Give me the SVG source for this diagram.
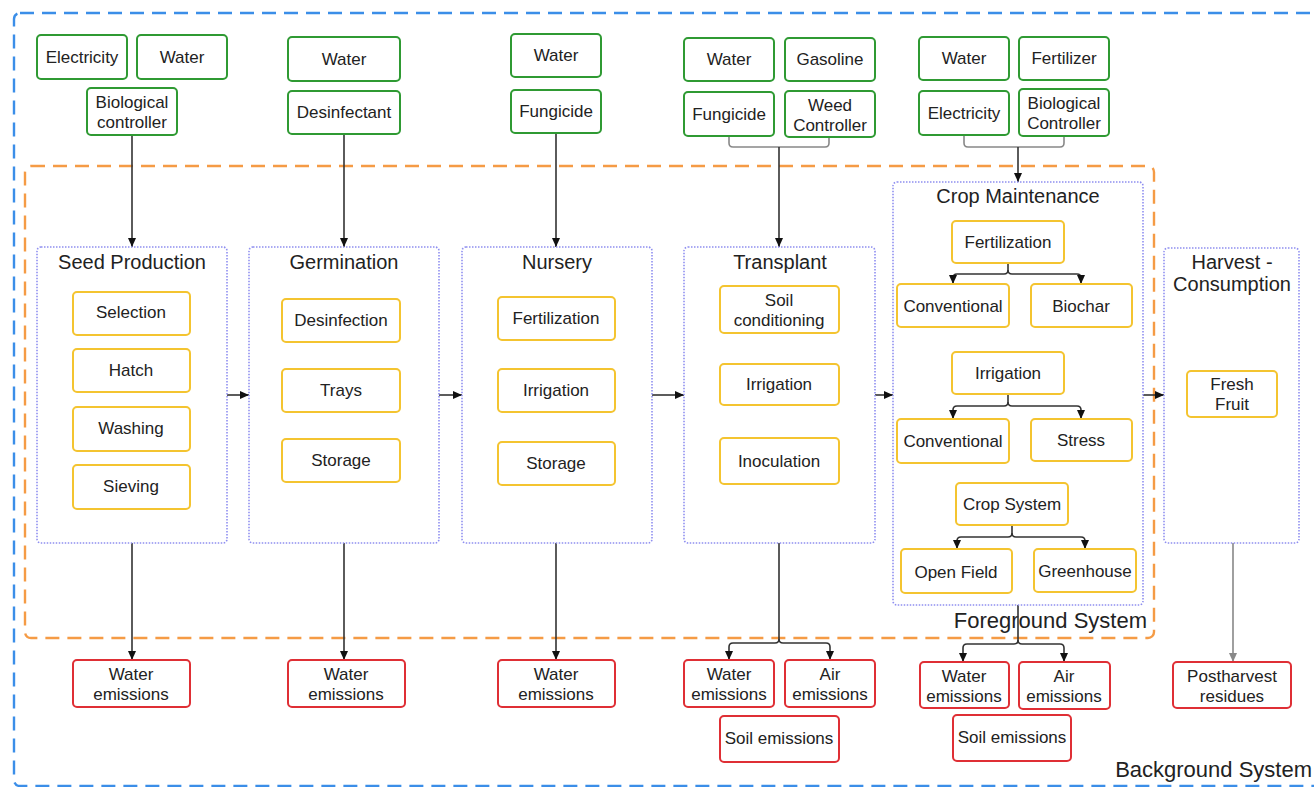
<svg xmlns="http://www.w3.org/2000/svg" width="1314" height="787" viewBox="0 0 1314 787">
<style>
text{font-family:"Liberation Sans",Arial,sans-serif;fill:#222;text-anchor:middle}
.t{font-size:17px}
.h{font-size:20px}
.big{font-size:22px}
.in{fill:#fff;stroke:#2f9a33;stroke-width:2}
.pr{fill:#fff;stroke:#f4c430;stroke-width:2}
.em{fill:#fff;stroke:#df2f35;stroke-width:2}
.st{fill:none;stroke:#8f8ff0;stroke-width:1.6;stroke-dasharray:1.5 1.5}
.c{fill:none;stroke:#333;stroke-width:1.6}
.cg{fill:none;stroke:#888;stroke-width:1.6}
</style>
<defs>
<marker id="a" markerWidth="10" markerHeight="10" refX="9" refY="5" orient="auto" markerUnits="userSpaceOnUse"><path d="M0,1 L9,5 L0,9 Z" fill="#111"/></marker>
<marker id="ag" markerWidth="10" markerHeight="10" refX="9" refY="5" orient="auto" markerUnits="userSpaceOnUse"><path d="M0,1 L9,5 L0,9 Z" fill="#888"/></marker>
</defs>
<rect width="1314" height="787" fill="#fff"/>
<g id="background-system">
<rect x="14" y="13" width="1320" height="773" rx="6" fill="none" stroke="#3b8ee8" stroke-width="2.4" stroke-dasharray="14 8"/>
<text class="big" x="1312" y="777" style="text-anchor:end">Background System</text>
</g>
<g id="foreground-system">
<rect x="25" y="166" width="1129" height="472" rx="6" fill="none" stroke="#f59b45" stroke-width="2.4" stroke-dasharray="14 8"/>
<text class="big" x="1147" y="628" style="text-anchor:end">Foreground System</text>
</g>

<g id="connectors">
<line class="c" x1="132" y1="135" x2="132" y2="247" marker-end="url(#a)"/>
<line class="c" x1="344" y1="134" x2="344" y2="247" marker-end="url(#a)"/>
<line class="c" x1="556" y1="133" x2="556" y2="247" marker-end="url(#a)"/>
<path class="cg" d="M729,136 V143 Q729,147 733,147 H825 Q829,147 829,143 V137"/>
<line class="c" x1="779" y1="147" x2="779" y2="247" marker-end="url(#a)"/>
<path class="cg" d="M964,135 V143 Q964,147 968,147 H1060 Q1064,147 1064,143 V136"/>
<line class="c" x1="1018" y1="147" x2="1018" y2="182" marker-end="url(#a)"/>
<line class="c" x1="227" y1="395" x2="249" y2="395" marker-end="url(#a)"/>
<line class="c" x1="439" y1="395" x2="462" y2="395" marker-end="url(#a)"/>
<line class="c" x1="652" y1="395" x2="684" y2="395" marker-end="url(#a)"/>
<line class="c" x1="875" y1="395" x2="893" y2="395" marker-end="url(#a)"/>
<line class="c" x1="1143" y1="395" x2="1164" y2="395" marker-end="url(#a)"/>
<path class="c" d="M1008,263 V270 Q1008,274 1004,274 H957 Q953,274 953,278 V284" marker-end="url(#a)"/>
<path class="c" d="M1008,270 Q1008,274 1012,274 H1077 Q1081,274 1081,278 V284" marker-end="url(#a)"/>
<path class="c" d="M1008,394 V402 Q1008,406 1004,406 H957 Q953,406 953,410 V419" marker-end="url(#a)"/>
<path class="c" d="M1008,402 Q1008,406 1012,406 H1077 Q1081,406 1081,410 V419" marker-end="url(#a)"/>
<path class="c" d="M1012,525 V533 Q1012,537 1008,537 H961 Q957,537 957,541 V549" marker-end="url(#a)"/>
<path class="c" d="M1012,533 Q1012,537 1016,537 H1081 Q1085,537 1085,541 V549" marker-end="url(#a)"/>
<line class="c" x1="132" y1="543" x2="132" y2="660" marker-end="url(#a)"/>
<line class="c" x1="344" y1="543" x2="344" y2="660" marker-end="url(#a)"/>
<line class="c" x1="556" y1="543" x2="556" y2="660" marker-end="url(#a)"/>
<path class="c" d="M779,543 V639 Q779,643 775,643 H733 Q729,643 729,647 V660" marker-end="url(#a)"/>
<path class="c" d="M779,639 Q779,643 783,643 H826 Q830,643 830,647 V660" marker-end="url(#a)"/>
<path class="c" d="M1018,605 V640 Q1018,644 1014,644 H967 Q963,644 963,648 V662" marker-end="url(#a)"/>
<path class="c" d="M1018,640 Q1018,644 1022,644 H1060 Q1064,644 1064,648 V662" marker-end="url(#a)"/>
<line class="cg" x1="1233" y1="543" x2="1233" y2="662" marker-end="url(#ag)"/>
</g>

<g id="in-electricity-1"><rect class="in" x="37" y="35" width="90" height="44" rx="4"/><text class="t" x="82" y="63">Electricity</text></g>
<g id="in-water-1"><rect class="in" x="137" y="35" width="90" height="44" rx="4"/><text class="t" x="182" y="63">Water</text></g>
<g id="in-biocontroller-1"><rect class="in" x="87" y="88" width="90" height="47" rx="4"/><text class="t" x="132" y="108">Biological</text><text class="t" x="132" y="128">controller</text></g>
<g id="in-water-2"><rect class="in" x="288" y="37" width="112" height="44" rx="4"/><text class="t" x="344" y="65">Water</text></g>
<g id="in-desinfectant"><rect class="in" x="288" y="91" width="112" height="43" rx="4"/><text class="t" x="344" y="118">Desinfectant</text></g>
<g id="in-water-3"><rect class="in" x="511" y="34" width="90" height="43" rx="4"/><text class="t" x="556" y="61">Water</text></g>
<g id="in-fungicide-3"><rect class="in" x="511" y="90" width="90" height="43" rx="4"/><text class="t" x="556" y="117">Fungicide</text></g>
<g id="in-water-4"><rect class="in" x="684" y="38" width="90" height="43" rx="4"/><text class="t" x="729" y="65">Water</text></g>
<g id="in-gasoline"><rect class="in" x="785" y="38" width="90" height="43" rx="4"/><text class="t" x="830" y="65">Gasoline</text></g>
<g id="in-fungicide-4"><rect class="in" x="684" y="92" width="90" height="44" rx="4"/><text class="t" x="729" y="120">Fungicide</text></g>
<g id="in-weed"><rect class="in" x="785" y="91" width="90" height="46" rx="4"/><text class="t" x="830" y="111">Weed</text><text class="t" x="830" y="131">Controller</text></g>
<g id="in-water-5"><rect class="in" x="919" y="37" width="90" height="43" rx="4"/><text class="t" x="964" y="64">Water</text></g>
<g id="in-fertilizer"><rect class="in" x="1019" y="37" width="90" height="43" rx="4"/><text class="t" x="1064" y="64">Fertilizer</text></g>
<g id="in-electricity-5"><rect class="in" x="919" y="91" width="90" height="44" rx="4"/><text class="t" x="964" y="119">Electricity</text></g>
<g id="in-biocontroller-5"><rect class="in" x="1019" y="89" width="90" height="47" rx="4"/><text class="t" x="1064" y="109">Biological</text><text class="t" x="1064" y="129">Controller</text></g>

<g id="seed-production"><rect class="st" x="37" y="247" width="190" height="296" rx="4"/><text class="h" x="132" y="269">Seed Production</text>
<rect class="pr" x="73" y="292" width="117" height="43" rx="4"/><text class="t" x="131" y="318">Selection</text>
<rect class="pr" x="73" y="349" width="117" height="43" rx="4"/><text class="t" x="131" y="376">Hatch</text>
<rect class="pr" x="73" y="407" width="117" height="44" rx="4"/><text class="t" x="131" y="434">Washing</text>
<rect class="pr" x="73" y="465" width="117" height="44" rx="4"/><text class="t" x="131" y="492">Sieving</text></g>
<g id="germination"><rect class="st" x="249" y="247" width="190" height="296" rx="4"/><text class="h" x="344" y="269">Germination</text>
<rect class="pr" x="282" y="299" width="118" height="43" rx="4"/><text class="t" x="341" y="326">Desinfection</text>
<rect class="pr" x="282" y="369" width="118" height="43" rx="4"/><text class="t" x="341" y="396">Trays</text>
<rect class="pr" x="282" y="439" width="118" height="43" rx="4"/><text class="t" x="341" y="466">Storage</text></g>
<g id="nursery"><rect class="st" x="462" y="247" width="190" height="296" rx="4"/><text class="h" x="557" y="269">Nursery</text>
<rect class="pr" x="498" y="297" width="117" height="43" rx="4"/><text class="t" x="556" y="324">Fertilization</text>
<rect class="pr" x="498" y="369" width="117" height="43" rx="4"/><text class="t" x="556" y="396">Irrigation</text>
<rect class="pr" x="498" y="442" width="117" height="43" rx="4"/><text class="t" x="556" y="469">Storage</text></g>
<g id="transplant"><rect class="st" x="684" y="247" width="191" height="296" rx="4"/><text class="h" x="780" y="269">Transplant</text>
<rect class="pr" x="720" y="286" width="119" height="47" rx="4"/><text class="t" x="779" y="306">Soil</text><text class="t" x="779" y="326">conditioning</text>
<rect class="pr" x="720" y="364" width="119" height="41" rx="4"/><text class="t" x="779" y="390">Irrigation</text>
<rect class="pr" x="720" y="438" width="119" height="46" rx="4"/><text class="t" x="779" y="467">Inoculation</text></g>
<g id="crop-maintenance"><rect class="st" x="893" y="182" width="250" height="423" rx="4"/><text class="h" x="1018" y="203">Crop Maintenance</text>
<rect class="pr" x="952" y="221" width="112" height="42" rx="4"/><text class="t" x="1008" y="248">Fertilization</text>
<rect class="pr" x="897" y="284" width="112" height="43" rx="4"/><text class="t" x="953" y="312">Conventional</text>
<rect class="pr" x="1031" y="284" width="101" height="43" rx="4"/><text class="t" x="1081" y="312">Biochar</text>
<rect class="pr" x="952" y="352" width="112" height="42" rx="4"/><text class="t" x="1008" y="379">Irrigation</text>
<rect class="pr" x="897" y="419" width="112" height="44" rx="4"/><text class="t" x="953" y="447">Conventional</text>
<rect class="pr" x="1031" y="419" width="101" height="42" rx="4"/><text class="t" x="1081" y="446">Stress</text>
<rect class="pr" x="956" y="483" width="112" height="42" rx="4"/><text class="t" x="1012" y="510">Crop System</text>
<rect class="pr" x="901" y="549" width="111" height="44" rx="4"/><text class="t" x="956" y="578">Open Field</text>
<rect class="pr" x="1034" y="549" width="102" height="43" rx="4"/><text class="t" x="1085" y="577">Greenhouse</text></g>
<g id="harvest-consumption"><rect class="st" x="1164" y="248" width="135" height="295" rx="4"/><text class="h" x="1232" y="269">Harvest -</text><text class="h" x="1232" y="291">Consumption</text>
<rect class="pr" x="1187" y="371" width="90" height="46" rx="4"/><text class="t" x="1232" y="390">Fresh</text><text class="t" x="1232" y="410">Fruit</text></g>

<g id="out-water-1"><rect class="em" x="73" y="660" width="117" height="47" rx="4"/><text class="t" x="131" y="680">Water</text><text class="t" x="131" y="700">emissions</text></g>
<g id="out-water-2"><rect class="em" x="288" y="660" width="117" height="47" rx="4"/><text class="t" x="346" y="680">Water</text><text class="t" x="346" y="700">emissions</text></g>
<g id="out-water-3"><rect class="em" x="498" y="660" width="117" height="47" rx="4"/><text class="t" x="556" y="680">Water</text><text class="t" x="556" y="700">emissions</text></g>
<g id="out-water-4"><rect class="em" x="684" y="660" width="90" height="47" rx="4"/><text class="t" x="729" y="680">Water</text><text class="t" x="729" y="700">emissions</text></g>
<g id="out-air-4"><rect class="em" x="785" y="660" width="90" height="47" rx="4"/><text class="t" x="830" y="680">Air</text><text class="t" x="830" y="700">emissions</text></g>
<g id="out-soil-4"><rect class="em" x="720" y="716" width="119" height="46" rx="4"/><text class="t" x="779" y="744">Soil emissions</text></g>
<g id="out-water-5"><rect class="em" x="920" y="662" width="89" height="46" rx="4"/><text class="t" x="964" y="682">Water</text><text class="t" x="964" y="702">emissions</text></g>
<g id="out-air-5"><rect class="em" x="1019" y="662" width="91" height="47" rx="4"/><text class="t" x="1064" y="682">Air</text><text class="t" x="1064" y="702">emissions</text></g>
<g id="out-soil-5"><rect class="em" x="953" y="715" width="118" height="46" rx="4"/><text class="t" x="1012" y="743">Soil emissions</text></g>
<g id="out-postharvest"><rect class="em" x="1173" y="662" width="118" height="46" rx="4"/><text class="t" x="1232" y="682">Postharvest</text><text class="t" x="1232" y="702">residues</text></g>
</svg>
